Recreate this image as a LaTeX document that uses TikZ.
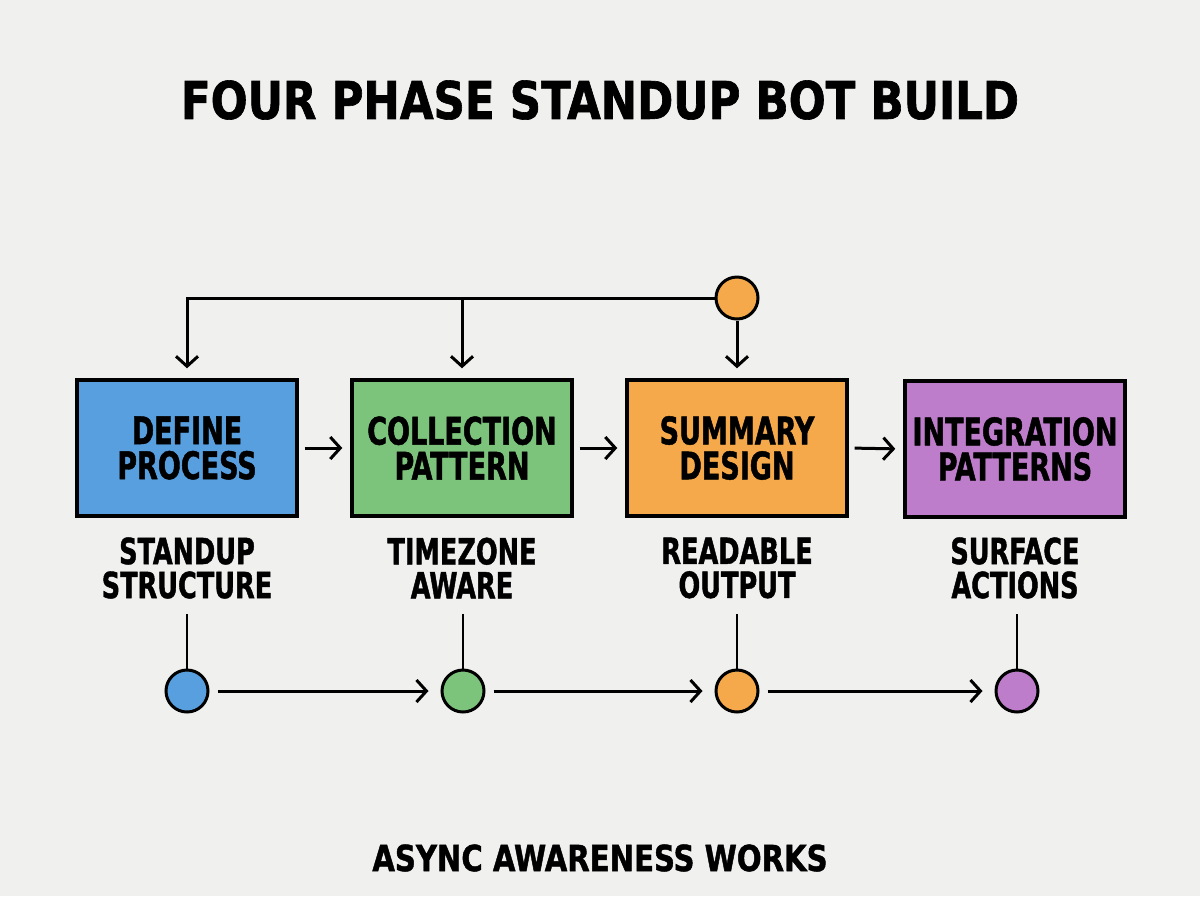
\documentclass[tikz,border=0pt]{standalone}
\usepackage{fontspec}
\usetikzlibrary{arrows.meta}
\newfontfamily\hT{DejaVu Sans Condensed}[FakeStretch=0.93,BoldFeatures={FakeBold=1.2}]
\newfontfamily\hB{DejaVu Sans Condensed}[FakeStretch=0.79,BoldFeatures={FakeBold=1.2}]
\newfontfamily\hF{DejaVu Sans Condensed}[FakeStretch=0.9,BoldFeatures={FakeBold=1.2}]
\definecolor{bg}{HTML}{F0F0EE}
\definecolor{cblue}{HTML}{589FDF}
\definecolor{cgreen}{HTML}{7CC47C}
\definecolor{corange}{HTML}{F5A94A}
\definecolor{cpurple}{HTML}{BE7DCB}
\begin{document}
\begin{tikzpicture}[x=0.5pt,y=-0.5pt,
  box/.style={draw=black,line width=1.7pt,minimum width=110pt,minimum height=68pt,inner sep=0pt,align=center,font=\hB\bfseries\fontsize{19}{17.5}\selectfont},
  lbl/.style={align=center,inner sep=0pt,font=\hB\bfseries\fontsize{18}{17}\selectfont},
  dot/.style={circle,draw=black,line width=1.5pt,minimum size=21pt,inner sep=0pt},
  arr/.style={line width=1.5pt,-{Straight Barb[length=5pt,width=11pt,line width=1.5pt]}},
  ln/.style={line width=1.2pt}]
\fill[bg] (0,0) rectangle (1200,896);
\useasboundingbox (0,0) rectangle (1200,896);
\node[font=\hT\bfseries\fontsize{26}{26}\selectfont,inner sep=0pt] (title) at (600,100) {FOUR PHASE STANDUP BOT BUILD};
\node[box,fill=cblue] (b1) at (187,448) {DEFINE\\PROCESS};
\node[box,fill=cgreen] (b2) at (462,448) {COLLECTION\\PATTERN};
\node[box,fill=corange] (b3) at (737,448) {SUMMARY\\DESIGN};
\node[box,fill=cpurple] (b4) at (1015,449) {INTEGRATION\\PATTERNS};
\node[dot,fill=corange] (top) at (737,298) {};
\draw[arr,shorten <=3pt,shorten >=4pt] (b1.east) -- (b2.west);
\draw[arr,shorten <=3pt,shorten >=4pt] (b2.east) -- (b3.west);
\draw[arr,shorten <=3pt,shorten >=4pt] (b3.east) -- (b4.west);
\coordinate (j0) at (top.west);
\coordinate (j1) at (b1.north |- j0);
\coordinate (j2) at (b2.north |- j0);
\draw[arr,shorten >=5pt] (j0) -- (j1) -- (b1.north);
\draw[arr,shorten >=5pt] (j2) -- (b2.north);
\draw[arr,shorten >=5pt] (top.south) -- (b3.north);
\node[lbl] (l1) at (187,568) {STANDUP\\STRUCTURE};
\node[lbl] (l2) at (462,568) {TIMEZONE\\AWARE};
\node[lbl] (l3) at (737,568) {READABLE\\OUTPUT};
\node[lbl] (l4) at (1015,568) {SURFACE\\ACTIONS};
\node[dot,fill=cblue] (d1) at (187,691) {};
\node[dot,fill=cgreen] (d2) at (463,691) {};
\node[dot,fill=corange] (d3) at (737,691) {};
\node[dot,fill=cpurple] (d4) at (1017,691) {};
\draw[ln] (d1.north |- l1.south) ++(0,15) coordinate (v1) -- (d1.north);
\draw[ln] (d2.north |- l2.south) ++(0,15) coordinate (v2) -- (d2.north);
\draw[ln] (d3.north |- l3.south) ++(0,15) coordinate (v3) -- (d3.north);
\draw[ln] (d4.north |- l4.south) ++(0,15) coordinate (v4) -- (d4.north);
\draw[arr,shorten <=4pt,shorten >=6pt] (d1.east) -- (d2.west);
\draw[arr,shorten <=4pt,shorten >=6pt] (d2.east) -- (d3.west);
\draw[arr,shorten <=4pt,shorten >=6pt] (d3.east) -- (d4.west);
\node[font=\hF\bfseries\fontsize{18}{18}\selectfont,inner sep=0pt] (foot) at (600,858) {ASYNC AWARENESS WORKS};
\end{tikzpicture}
\end{document}
